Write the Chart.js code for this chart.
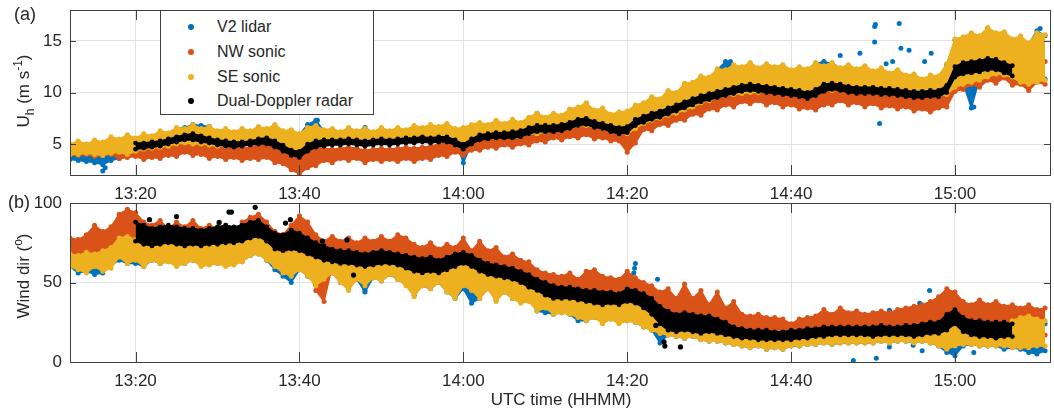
<!DOCTYPE html>
<html>
<head>
<meta charset="utf-8">
<script src="https://cdn.jsdelivr.net/npm/chart.js@4/dist/chart.umd.min.js"></script>
<style>
  body { margin: 0; width: 1054px; height: 414px; position: relative; overflow: hidden; background: #fff;
         font-family: "Liberation Sans", Arial, sans-serif; color: #262626; }
  canvas { position: absolute; left: 0; }
  #chartA { top: 0; }
  #chartB { top: 195px; }
  .panel { position: absolute; font-size: 18px; line-height: 1; }
  .ytitle { position: absolute; font-size: 17px; white-space: nowrap; line-height: 1;
            transform: translate(-50%, -50%) rotate(-90deg); }
  .ytitle sub, .ytitle sup { font-size: 12px; }
  .xtitle { position: absolute; font-size: 17px; white-space: nowrap; transform: translate(-50%, -50%); }
  #legend { position: absolute; left: 160px; top: 10px; width: 212px; height: 103px; background: #fff;
            border: 1px solid #404040; font-size: 16px; }
  #legend .item { position: absolute; left: 0; height: 20px; line-height: 20px; }
  #legend .dot { position: absolute; left: 27px; top: 7px; width: 6px; height: 6px; border-radius: 50%; }
  #legend .txt { position: absolute; left: 56px; white-space: nowrap; }
</style>
</head>
<body>
<canvas id="chartA" width="1054" height="205"></canvas>
<canvas id="chartB" width="1054" height="219"></canvas>
<div class="panel" style="left:14px;top:5px">(a)</div>
<div class="panel" style="left:8px;top:193px">(b)</div>
<div class="ytitle" style="left:24px;top:91px">U<sub>h</sub> (m s<sup>-1</sup>)</div>
<div class="ytitle" style="left:22px;top:276px">Wind dir (<sup>o</sup>)</div>
<div class="xtitle" style="left:561px;top:400px">UTC time (HHMM)</div>
<div id="legend"></div>
<script>
// one sample per minute after 13:00, from 13:12 to 15:11
const minutes = [];
for (let m = 12; m <= 131; m++) minutes.push(m);

const seriesNames = ['V2 lidar', 'NW sonic', 'SE sonic', 'Dual-Doppler radar'];
const seriesColors = ['#0072BD', '#D95319', '#EDB120', '#000000'];

const timeTicks = [20, 40, 60, 80, 100, 120];
const timeLabels = ['13:20', '13:40', '14:00', '14:20', '14:40', '15:00'];
const speedTicks = [5, 10, 15];
const dirTicks = [0, 50, 100];

// (a) horizontal wind speed, spread of each instrument per minute (low / high)
const uBlueLo = [
  3.5,3.4,3.3,3.2,3.0,3.4,3.6,3.8,4.2,4.4, 4.7,4.8,4.9,5.1,5.2,5.1,5.1,5.0,4.9,4.9,
  5.0,5.1,5.1,5.2,5.3,5.1,4.7,4.5,4.6,4.7, 4.9,5.1,5.2,5.3,5.3,5.3,5.1,5.2,5.3,5.2,
  5.2,5.3,5.3,5.4,5.3,5.4,5.5,5.4,3.2,5.0, 5.6,5.7,5.9,5.9,5.8,5.9,6.1,6.1,6.3,6.4,
  6.5,6.6,6.9,6.9,6.7,6.6,6.4,6.3,6.1,6.6, 7.1,7.4,7.6,7.9,8.1,8.4,8.7,9.1,9.3,9.6,
  9.8,9.9,10.0,10.1,10.1,10.2,10.1,10.1,10.0,10.0, 9.9,10.1,10.3,10.3,10.4,10.3,10.3,10.2,10.1,10.1,
  10.0,10.0,9.9,9.8,9.7,9.7,9.8,9.9,10.6,10.9, 8.5,11.3,11.6,11.9,11.8,11.6,11.1,10.9,11.1,11.3];
const uBlueHi = [
  4.8,4.7,4.5,4.4,4.4,4.6,5.0,5.0,5.4,5.6, 5.7,6.1,6.0,6.5,6.6,6.9,6.8,6.7,6.2,6.3,
  6.1,6.4,6.2,6.6,6.4,6.8,6.2,6.3,5.9,6.9, 7.3,6.3,6.4,6.1,6.5,6.2,6.6,6.1,6.5,6.2,
  6.5,6.3,6.7,6.5,6.8,6.6,6.9,6.4,6.5,6.8, 7.0,6.8,7.2,6.9,7.3,7.0,7.5,8.0,7.5,7.9,
  7.7,8.3,8.5,8.9,8.2,8.4,7.8,8.0,8.1,8.7, 8.9,9.5,9.3,10.1,9.9,10.8,10.9,11.5,11.4,12.2,
  13.0,12.6,12.4,12.8,12.3,12.7,12.4,12.6,12.1,12.4, 12.2,12.8,13.0,12.8,12.3,12.6,12.2,12.5,12.0,12.3,
  11.8,12.1,11.6,11.7,11.2,11.6,11.5,12.7,15.1,15.3, 15.7,15.4,16.2,15.7,15.8,15.1,15.4,14.7,16.0,15.5];
const uOrangeLo = [
  4.0,3.9,4.0,3.8,3.9,4.0,3.6,3.7,3.8,3.5, 3.7,3.6,3.9,3.8,4.2,3.9,4.0,3.6,3.8,3.5,
  3.7,3.4,3.6,3.5,3.7,3.2,3.1,2.5,2.1,2.7, 2.9,3.4,3.2,3.6,3.4,3.6,3.2,3.5,3.3,3.5,
  3.3,3.6,3.3,3.6,3.5,3.9,3.8,4.2,3.9,4.4, 4.4,4.7,4.6,4.9,4.7,5.0,4.9,5.3,5.2,5.6,
  5.4,5.7,5.6,5.9,5.5,5.6,5.3,5.3,4.2,5.1, 6.4,6.3,6.9,6.8,7.3,7.3,7.9,7.8,8.4,8.3,
  8.8,8.6,9.1,8.9,9.2,8.8,9.0,8.6,8.8,8.4, 8.5,8.3,8.8,8.8,9.2,8.8,9.0,8.6,8.9,8.5,
  8.7,8.4,8.6,8.2,8.4,8.1,8.5,8.6,10.1,10.3, 10.8,10.5,11.2,10.9,11.4,10.7,10.8,10.2,11.0,10.8];
const uOrangeHi = [
  4.8,4.9,4.8,4.8,4.7,5.0,4.8,4.6,4.6,4.6, 4.7,4.8,5.0,5.3,5.5,5.5,5.3,5.0,4.8,4.7,
  4.7,4.6,4.7,4.9,4.9,4.6,4.4,4.2,4.0,4.3, 4.6,4.6,4.5,4.6,4.7,4.6,4.4,4.5,4.6,4.5,
  4.6,4.7,4.6,4.7,4.8,5.0,5.2,5.2,5.0,5.4, 5.5,5.6,5.7,5.7,5.8,5.9,6.0,6.2,6.4,6.5,
  6.5,6.6,7.0,7.0,6.8,6.6,6.5,6.4,6.3,6.8, 7.3,7.6,7.8,8.0,8.3,8.6,8.9,9.2,9.4,9.6,
  9.8,10.0,10.2,10.3,10.3,10.2,10.1,10.0,10.0,9.9, 9.8,10.0,10.3,10.5,10.6,10.5,10.3,10.2,10.1,10.0,
  9.9,9.8,9.7,9.6,9.5,9.5,9.6,10.5,12.0,12.5, 12.6,12.8,13.0,13.2,13.0,12.8,12.6,12.5,12.8,13.0];
const uYellowLo = [
  4.0,4.0,4.1,4.0,3.9,4.1,4.2,4.0,4.3,4.5, 4.6,4.7,4.8,5.0,5.1,5.0,5.0,4.9,4.8,4.8,
  4.9,5.0,5.0,5.1,5.2,5.0,4.6,4.4,4.5,4.6, 4.8,5.0,5.1,5.2,5.2,5.2,5.0,5.1,5.2,5.1,
  5.1,5.2,5.2,5.3,5.2,5.3,5.4,5.3,5.0,5.2, 5.5,5.6,5.8,5.8,5.7,5.8,6.0,6.0,6.2,6.3,
  6.4,6.5,6.8,6.8,6.6,6.5,6.3,6.2,6.0,6.5, 7.0,7.3,7.5,7.8,8.0,8.3,8.6,9.0,9.2,9.5,
  9.7,9.8,9.9,10.0,10.0,10.1,10.0,10.0,9.9,9.9, 9.8,10.0,10.2,10.2,10.3,10.2,10.2,10.1,10.0,10.0,
  9.9,9.9,9.8,9.7,9.6,9.6,9.7,9.8,10.5,10.8, 11.0,11.2,11.5,11.8,11.7,11.5,11.0,10.8,11.0,11.2];
const uYellowHi = [
  5.0,5.3,5.0,5.4,5.2,5.7,5.5,5.9,5.6,6.0, 5.8,6.3,6.1,6.6,6.5,6.9,6.5,6.7,6.3,6.5,
  6.2,6.5,6.3,6.7,6.5,6.9,6.3,6.4,6.0,6.6, 6.8,6.4,6.5,6.2,6.6,6.3,6.5,6.2,6.6,6.3,
  6.6,6.4,6.8,6.6,6.9,6.7,7.0,6.5,6.6,6.9, 7.1,6.9,7.3,7.0,7.4,7.1,7.6,8.0,7.6,8.0,
  7.8,8.4,8.6,9.0,8.3,8.5,7.9,8.1,8.2,8.8, 9.0,9.6,9.4,10.2,10.0,10.9,11.0,11.6,11.5,12.3,
  12.2,12.7,12.5,12.9,12.4,12.8,12.5,12.7,12.2,12.5, 12.3,12.9,12.6,12.9,12.4,12.7,12.3,12.6,12.1,12.4,
  11.9,12.2,11.7,11.8,11.3,11.7,11.6,12.8,15.2,15.4, 15.8,15.5,16.3,15.8,15.9,15.2,15.5,14.8,15.8,15.6];
const uBlackLo = [
  null,null,null,null,null,null,null,null,4.5,4.6, 4.7,4.8,5.0,5.2,5.4,5.4,5.2,5.1,4.9,4.8,
  4.7,4.8,4.9,5.0,5.0,4.7,4.3,3.9,3.7,4.3, 4.7,4.8,4.9,4.9,5.0,4.9,4.8,4.9,5.0,4.9,
  5.0,5.1,5.1,5.2,5.1,5.2,5.2,4.9,4.5,5.0, 5.4,5.5,5.6,5.6,5.6,5.7,6.0,6.2,6.2,6.2,
  6.3,6.5,6.8,6.9,6.6,6.5,6.2,6.0,6.1,6.8, 7.1,7.4,7.6,7.9,8.2,8.5,8.8,9.1,9.3,9.5,
  9.7,9.9,10.1,10.2,10.1,10.0,9.9,9.8,9.7,9.6, 9.4,9.7,10.1,10.3,10.2,10.0,9.9,9.9,9.9,9.8,
  9.8,9.7,9.6,9.5,9.5,9.6,9.6,10.0,11.5,11.8, 11.9,12.0,12.2,12.2,11.9,11.6,null,null,null,null];
const uBlackHi = [
  null,null,null,null,null,null,null,null,5.1,5.1, 5.2,5.3,5.5,5.7,5.9,6.0,5.8,5.6,5.4,5.3,
  5.2,5.2,5.3,5.5,5.6,5.3,4.9,4.4,4.3,5.0, 5.3,5.4,5.4,5.4,5.5,5.4,5.3,5.4,5.5,5.4,
  5.5,5.6,5.6,5.7,5.6,5.7,5.7,5.4,5.0,5.5, 5.9,6.0,6.1,6.1,6.2,6.3,6.6,6.8,6.8,6.8,
  6.9,7.1,7.4,7.5,7.2,7.0,6.8,6.6,6.7,7.4, 7.7,8.0,8.2,8.5,8.8,9.1,9.4,9.7,9.9,10.1,
  10.3,10.5,10.7,10.8,10.7,10.6,10.5,10.4,10.3,10.2, 10.0,10.3,10.8,10.9,10.8,10.6,10.5,10.5,10.5,10.4,
  10.4,10.3,10.2,10.1,10.1,10.2,10.2,10.7,12.5,12.9, 13.0,13.1,13.3,13.2,12.9,12.6,null,null,null,null];
// isolated lidar points away from the bulk
const uBlueOutX = [16.0, 16.3, 42.1, 42.2, 69.0, 92.6, 106.0, 108.4, 110.2, 110.3, 110.2, 110.8, 111.6, 112.4, 113.2, 113.4, 114.4, 116.3, 117.1, 122.1, 122.3, 130.4];
const uBlueOutY = [2.4, 2.7, 7.0, 7.3, 7.8, 13.0, 13.6, 13.8, 16.4, 16.6, 14.9, 7.0, 12.8, 13.0, 16.7, 14.3, 14.1, 13.0, 13.8, 9.6, 8.6, 16.2];

// (b) wind direction, spread of each instrument per minute (low / high)
const dBlueLo = [
  60,56,57,55,56,61,64,62,62,60, 64,62,63,61,62,64,61,62,62,61,
  62,63,67,68,64,58,54,50,58,54, 49,52,56,50,46,52,44,53,51,55,
  52,49,42,48,46,50,44,40,46,37, 40,46,39,44,40,38,39,32,31,30,
  31,30,26,26,28,25,27,25,26,25, 22,20,12,17,16,15,16,14,13,13,
  12,11,10,9,10,8,9,8,10,10, 11,11,12,11,12,12,12,12,12,13,
  12,13,13,12,13,12,10,6,4,10, 11,10,10,10,8,9,8,6,5,7];
const dBlueHi = [
  66,65,67,66,68,70,90,94,78,73, 72,73,74,73,72,72,71,72,72,73,
  73,74,75,76,73,68,66,68,86,64, 63,62,61,61,60,60,59,60,61,60,
  59,58,56,55,56,55,56,58,60,57, 54,52,51,50,49,47,44,42,40,39,
  39,39,38,37,36,35,36,35,37,36, 33,30,26,24,23,23,22,21,21,20,
  18,17,16,15,15,15,14,14,15,15, 16,16,17,17,17,17,17,17,17,18,
  18,18,18,18,19,20,20,23,25,22, 20,20,19,19,20,24,26,27,25,24];
const dOrangeLo = [
  67,66,68,67,68,70,74,76,74,72, 72,71,72,72,71,72,71,72,72,73,
  73,74,76,77,75,70,68,68,66,60, 45,38,60,60,60,59,58,59,60,60,
  59,57,55,54,55,54,56,58,60,58, 55,53,52,51,50,48,46,44,42,40,
  40,40,39,38,37,36,37,36,38,37, 34,31,28,27,26,26,25,25,24,23,
  22,21,20,20,20,19,19,19,18,19, 20,20,21,21,21,21,21,21,21,21,
  21,21,22,22,23,24,25,28,27,24, 23,23,22,22,21,20,19,18,18,17];
const dOrangeHi = [
  78,77,80,86,82,85,93,96,94,88, 86,89,84,88,85,89,84,86,84,86,
  82,88,91,93,88,82,80,86,92,88, 80,76,79,76,78,75,78,76,79,76,
  80,78,74,72,75,71,74,72,78,70, 76,70,72,66,68,64,63,58,56,55,
  54,56,52,57,58,54,53,52,57,53, 50,48,44,46,40,49,40,45,36,44,
  34,38,30,29,30,28,28,27,24,27, 28,29,33,30,34,31,32,30,31,32,
  31,33,34,35,36,38,41,46,44,38, 36,39,36,38,35,36,34,36,33,34];
const dYellowLo = [
  60,58,56,60,57,59,66,62,64,60, 64,62,63,60,62,64,60,61,62,60,
  61,63,67,68,64,60,56,54,58,54, 48,52,56,50,45,52,48,53,51,55,
  52,48,41,48,46,50,44,40,48,45, 40,46,38,44,40,37,38,32,34,30,
  31,30,28,26,28,24,27,24,26,25, 22,20,18,17,16,15,16,14,13,13,
  12,11,10,9,10,8,9,8,10,10, 11,11,12,11,12,12,12,12,12,13,
  12,13,13,12,13,12,10,8,10,11, 11,10,10,10,10,9,9,9,10,10];
const dYellowHi = [
  68,67,69,68,70,72,78,79,77,75, 74,75,76,75,74,74,73,74,74,75,
  75,76,77,78,75,70,68,70,69,66, 65,64,63,63,62,62,61,62,63,62,
  61,60,58,57,58,57,58,60,62,59, 56,54,53,52,51,49,46,44,42,41,
  41,41,40,39,38,37,38,37,39,38, 35,32,28,26,25,25,24,23,23,22,
  20,19,18,17,17,17,16,16,17,17, 18,18,19,19,19,19,19,19,19,19,
  20,20,20,20,21,22,22,25,27,24, 22,22,21,21,22,26,28,29,27,26];
const dBlackLo = [
  null,null,null,null,null,null,null,null,76,74, 73,74,75,74,73,74,73,74,74,75,
  75,76,78,79,76,71,70,71,70,68, 66,64,63,62,62,61,60,61,62,62,
  61,59,57,56,57,56,58,60,62,60, 57,55,54,53,52,50,47,45,42,40,
  40,40,39,38,37,36,37,36,38,37, 34,30,24,20,19,20,19,18,19,18,
  17,16,15,15,14,14,14,14,14,15, 15,16,16,17,17,17,17,17,16,17,
  17,17,17,16,17,18,18,20,24,19, 17,16,16,15,16,16,null,null,null,null];
const dBlackHi = [
  null,null,null,null,null,null,null,null,88,86, 84,85,86,85,84,84,83,84,85,86,
  85,86,88,89,85,81,80,83,81,78, 75,73,71,70,70,69,68,69,70,69,
  68,67,66,65,66,64,66,68,69,67, 64,62,61,60,59,57,55,52,50,48,
  47,47,46,45,45,44,44,43,46,45, 43,40,35,32,30,31,30,29,29,27,
  25,22,21,20,20,20,19,19,20,20, 21,21,22,22,22,22,22,22,22,23,
  22,22,23,23,24,25,25,30,33,28, 26,26,25,25,25,24,null,null,null,null];
const dBlueOutX = [48.0, 80.8, 80.9, 81.0, 83.7, 107.6, 110.4, 112.0, 112.0, 114.9, 115.7, 116.0, 116.9, 122.3];
const dBlueOutY = [45, 56, 59, 62, 52, 1, 2.3, 9.5, 32.6, 10.5, 37, 7, 45, 6];
const dBlackOutX = [21.7, 25.0, 30.2, 31.4, 31.7, 34.6, 38.3, 38.9, 42.8, 45.8, 46.6, 83.5, 84.5, 84.6, 86.5];
const dBlackOutY = [89.5, 91.5, 87.8, 94.3, 94.3, 97.3, 87.4, 89.5, 76, 76.8, 54.7, 23, 12.6, 10, 9.5];

// legend
const legendEl = document.getElementById('legend');
seriesNames.forEach((name, i) => {
  legendEl.innerHTML += `<div class="item" style="top:${6 + i * 24.8}px">
    <span class="dot" style="background:${seriesColors[i]}"></span><span class="txt">${name}</span></div>`;
});

const pts = arr => minutes.map((m, i) => ({ x: m, y: arr[i] }));

function band(lo, hi, color, order, r) {
  const base = {
    borderColor: color, backgroundColor: color, pointBackgroundColor: color,
    pointBorderWidth: 0, pointRadius: r, borderWidth: 1.5, order: order, spanGaps: false
  };
  return [
    { ...base, data: pts(lo), fill: false },
    { ...base, data: pts(hi), fill: '-1' }
  ];
}

function scatter(xs, ys, color, order, r) {
  return {
    data: xs.map((x, i) => ({ x: x, y: ys[i] })),
    showLine: false, pointRadius: r, pointBorderWidth: 0,
    pointBackgroundColor: color, backgroundColor: color, borderColor: color, order: order
  };
}

// box round the plot, ticks pointing inward
const framePlugin = {
  id: 'frame',
  afterDraw(chart) {
    const { ctx, chartArea: a, scales: { x, y } } = chart;
    ctx.save();
    ctx.strokeStyle = '#404040';
    ctx.lineWidth = 1;
    ctx.strokeRect(Math.round(a.left) + 0.5, Math.round(a.top) + 0.5,
      Math.round(a.right - a.left), Math.round(a.bottom - a.top));
    ctx.beginPath();
    x.ticks.forEach(t => {
      const px = Math.round(x.getPixelForValue(t.value)) + 0.5;
      ctx.moveTo(px, a.bottom); ctx.lineTo(px, a.bottom - 10);
      ctx.moveTo(px, a.top); ctx.lineTo(px, a.top + 10);
    });
    y.ticks.forEach(t => {
      const py = Math.round(y.getPixelForValue(t.value)) + 0.5;
      ctx.moveTo(a.left, py); ctx.lineTo(a.left + 6, py);
      ctx.moveTo(a.right, py); ctx.lineTo(a.right - 6, py);
    });
    ctx.stroke();
    ctx.restore();
  }
};

function makeChart(id, datasets, yMin, yMax, yTicks, padTop, xHeight) {
  return new Chart(document.getElementById(id), {
    type: 'line',
    data: { datasets: datasets },
    options: {
      responsive: false,
      animation: false,
      layout: { padding: { top: padTop, left: 0, right: 0, bottom: 0 } },
      plugins: { legend: { display: false }, tooltip: { enabled: false } },
      scales: {
        x: {
          type: 'linear', min: 12, max: 131.6,
          afterBuildTicks: s => { s.ticks = timeTicks.map(v => ({ value: v })); },
          afterFit: s => { s.height = xHeight; s.paddingLeft = 0; s.paddingRight = 0; },
          grid: { color: '#e3e3e3', drawTicks: false },
          border: { display: false },
          ticks: {
            autoSkip: false, maxRotation: 0, padding: 9, color: '#262626',
            font: { family: 'Liberation Sans', size: 17 },
            callback: v => timeLabels[timeTicks.indexOf(v)]
          }
        },
        y: {
          min: yMin, max: yMax,
          afterBuildTicks: s => { s.ticks = yTicks.map(v => ({ value: v })); },
          afterFit: s => { s.width = 70; s.paddingTop = 0; s.paddingBottom = 0; },
          grid: { color: '#e3e3e3', drawTicks: false },
          border: { display: false },
          ticks: { padding: 8, color: '#262626', font: { family: 'Liberation Sans', size: 17 } }
        }
      }
    },
    plugins: [framePlugin]
  });
}

makeChart('chartA', [
  scatter(uBlueOutX, uBlueOutY, seriesColors[0], 3, 2.5),
  ...band(uBlueLo, uBlueHi, seriesColors[0], 3, 2.5),
  ...band(uOrangeLo, uOrangeHi, seriesColors[1], 2, 2.5),
  ...band(uYellowLo, uYellowHi, seriesColors[2], 1, 2.5),
  ...band(uBlackLo, uBlackHi, seriesColors[3], 0, 2.4)
], 2, 18, speedTicks, 10, 30);

makeChart('chartB', [
  scatter(dBlueOutX, dBlueOutY, seriesColors[0], 3, 2.5),
  ...band(dBlueLo, dBlueHi, seriesColors[0], 3, 2.5),
  ...band(dOrangeLo, dOrangeHi, seriesColors[1], 2, 2.5),
  ...band(dYellowLo, dYellowHi, seriesColors[2], 1, 2.5),
  ...band(dBlackLo, dBlackHi, seriesColors[3], 0, 2.4),
  scatter(dBlackOutX, dBlackOutY, seriesColors[3], 0, 2.6)
], 0, 100, dirTicks, 8, 52);
</script>
</body>
</html>
